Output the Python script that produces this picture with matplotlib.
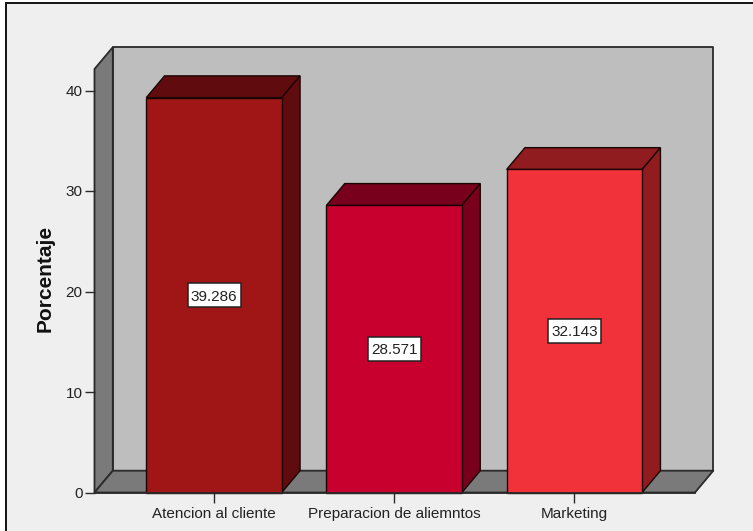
import matplotlib
matplotlib.use("Agg")
import matplotlib.pyplot as plt
from matplotlib.patches import Polygon, Rectangle

categories = ["Atencion al cliente", "Preparacion de aliemntos", "Marketing"]
values = [39.286, 28.571, 32.143]
labels = ["39.286", "28.571", "32.143"]
front_colors = ["#A01515", "#C8002D", "#F2323A"]
side_colors = ["#600C0E", "#78001C", "#901C20"]
yticks = [0, 10, 20, 30, 40]

W, H = 753, 531
plt.rcParams["font.family"] = ["Liberation Sans", "DejaVu Sans"]

fig = plt.figure(figsize=(W / 100, H / 100), dpi=100, facecolor="white")

# fondo del grafico
fig.add_artist(Rectangle((5.5 / W, -0.01), 1.0, (H - 3) / H + 0.01, transform=fig.transFigure,
                         facecolor="#EFEFEF", edgecolor="#111111", linewidth=1.4, zorder=-1))

left, right, top, bottom = 94.5, 695, 69, 492.5
ax = fig.add_axes([left / W, 1 - bottom / H, (right - left) / W, (bottom - top) / H])
px_x = 180.2
px_y = 10.05
ax.set_xlim((left - 214) / px_x, (right - 214) / px_x)
ax.set_ylim(0, (bottom - top) / px_y)
ax.patch.set_visible(False)
for s in ax.spines.values():
    s.set_visible(False)

dx = 18.3 / px_x
dy = 21.8 / px_y
x0, x1 = ax.get_xlim()
y1 = ax.get_ylim()[1]
wall = dict(edgecolor="#2A2A2A", linewidth=1.3, joinstyle="round", clip_on=False)

ax.add_patch(Polygon([(x0 + dx, dy), (x1 + dx, dy), (x1 + dx, y1 + dy), (x0 + dx, y1 + dy)],
                     facecolor="#BEBEBE", zorder=1, **wall))
ax.add_patch(Polygon([(x0, 0), (x0 + dx, dy), (x0 + dx, y1 + dy), (x0, y1)],
                     facecolor="#7A7A7A", zorder=1, **wall))
ax.add_patch(Polygon([(x0, 0), (x1, 0), (x1 + dx, dy), (x0 + dx, dy)],
                     facecolor="#7A7A7A", zorder=1, **wall))

bar_w = 135.5 / px_x
box_w = 53 / px_x
box_h = 24 / px_y
edge = dict(edgecolor="#1A0505", linewidth=1.0, clip_on=False, zorder=2)
for i, v in enumerate(values):
    a, b = i - bar_w / 2, i + bar_w / 2
    ax.add_patch(Polygon([(a, v), (b, v), (b + dx, v + dy), (a + dx, v + dy)],
                         facecolor=side_colors[i], **edge))
    ax.add_patch(Polygon([(b, 0), (b + dx, dy), (b + dx, v + dy), (b, v)],
                         facecolor=side_colors[i], **edge))
    ax.add_patch(Rectangle((a, 0), bar_w, v, facecolor=front_colors[i], **edge))
    # etiqueta del valor
    ax.add_patch(Rectangle((i - box_w / 2, v / 2 - box_h / 2), box_w, box_h, facecolor="white",
                           edgecolor="#222222", linewidth=1.1, zorder=3))
    ax.text(i, v / 2, labels[i], ha="center", va="center_baseline", fontsize=11, color="#222222", zorder=4)

ax.plot([x0, x1], [0, 0], color="#2A2A2A", lw=1.3, zorder=4, clip_on=False)

ax.set_xticks(range(len(categories)))
ax.set_xticklabels(categories)
ax.set_yticks(yticks)
ax.tick_params(axis="y", length=7.2, width=1.0, color="#2A2A2A", labelcolor="#222222",
               labelsize=11, pad=1.5)
ax.tick_params(axis="x", length=7.2, width=1.0, color="#2A2A2A", labelcolor="#222222",
               labelsize=11, pad=3)
ax.set_ylabel("Porcentaje", fontsize=15, fontweight="bold", color="#111111", labelpad=8, y=0.505)

fig.savefig("out.png", dpi=100)
